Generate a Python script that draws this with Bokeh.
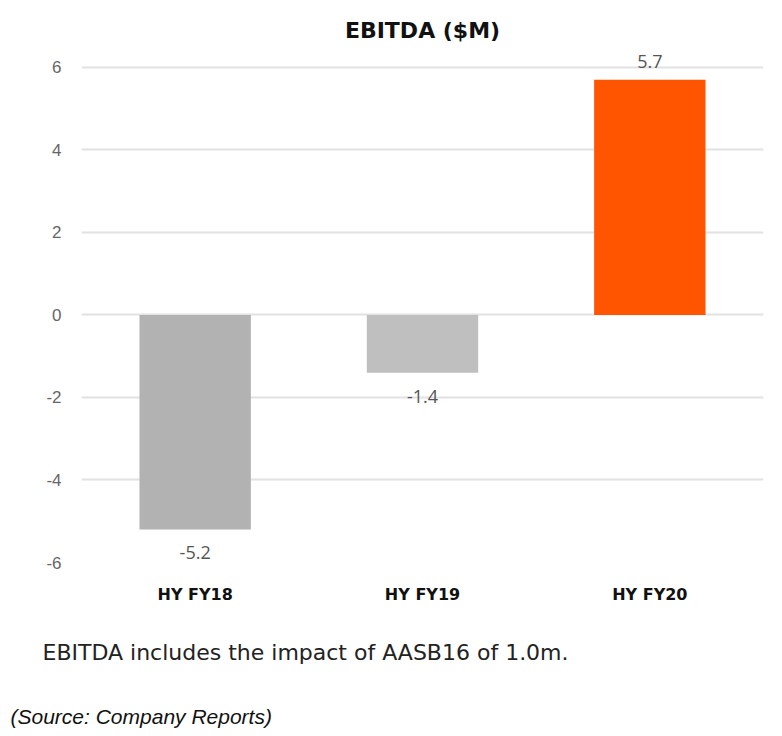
from bokeh.plotting import figure
from bokeh.models import ColumnDataSource, Range1d, Title, FixedTicker, CustomJSTickFormatter
from bokeh.core.properties import value
from bokeh.embed import file_html
from bokeh.resources import INLINE

categories = ["HY FY18", "HY FY19", "HY FY20"]
ebitda = [-5.2, -1.4, 5.7]
bar_colors = ["#b2b2b2", "#bfbfbf", "#ff5500"]
y_ticks = [-6, -4, -2, 0, 2, 4, 6]
title_text = "EBITDA ($M)"
note_text = "EBITDA includes the impact of AASB16 of 1.0m."
source_text = "(Source: Company Reports)"

labels = [f"{v:.1f}" for v in ebitda]
src = ColumnDataSource(dict(cat=categories, val=ebitda, color=bar_colors, label=labels))
pos = ColumnDataSource(dict(cat=[c for c, v in zip(categories, ebitda) if v >= 0],
                            val=[v for v in ebitda if v >= 0],
                            label=[l for l, v in zip(labels, ebitda) if v >= 0]))
neg = ColumnDataSource(dict(cat=[c for c, v in zip(categories, ebitda) if v < 0],
                            val=[v for v in ebitda if v < 0],
                            label=[l for l, v in zip(labels, ebitda) if v < 0]))

p = figure(x_range=categories, y_range=Range1d(-6, 6.41), width=776, height=736,
           output_backend="svg", toolbar_location=None,
           min_border_left=81, min_border_right=13, min_border_top=50, min_border_bottom=174)

p.title.text = title_text
p.title.align = "center"
p.title.text_font = "DejaVu Sans"
p.title.text_font_style = "bold"
p.title.text_font_size = "22px"
p.title.text_color = "#111111"
p.title.standoff = 15

p.vbar(x="cat", top="val", bottom=0, width=0.49, color="color", source=src, line_color=None)

p.text(x="cat", y="val", text="label", source=pos, text_align="center", text_baseline="bottom",
       y_offset=-12, text_font=value("Open Sans"), text_font_size="18px", text_color="#555555")
p.text(x="cat", y="val", text="label", source=neg, text_align="center", text_baseline="top",
       y_offset=17, text_font=value("Open Sans"), text_font_size="18px", text_color="#555555")

p.outline_line_color = None
p.xgrid.grid_line_color = None
p.ygrid.grid_line_color = "#e2e2e2"
p.ygrid.grid_line_width = 2
p.yaxis.ticker = FixedTicker(ticks=y_ticks)
p.yaxis.formatter = CustomJSTickFormatter(code="return tick.toFixed(0);")
p.yaxis.axis_line_color = None
p.yaxis.major_tick_line_color = None
p.yaxis.minor_tick_line_color = None
p.yaxis.major_label_standoff = 14
p.yaxis.major_label_text_font = "Liberation Sans"
p.yaxis.major_label_text_font_size = "17px"
p.yaxis.major_label_text_color = "#666666"

p.xaxis.axis_line_color = None
p.xaxis.major_tick_line_color = None
p.xaxis.major_label_standoff = 16
p.xaxis.major_label_text_font = "DejaVu Sans"
p.xaxis.major_label_text_font_style = "bold"
p.xaxis.major_label_text_font_size = "16px"
p.xaxis.major_label_text_color = "#111111"

note = Title(text=note_text, align="left", offset=-39, text_font="DejaVu Sans",
             text_font_style="normal", text_font_size="22px", text_color="#222222", standoff=62)
p.add_layout(note, "below")
srct = Title(text=source_text, align="left", offset=-71, text_font="Liberation Sans",
             text_font_style="italic", text_font_size="21px", text_color="#111111", standoff=15)
p.add_layout(srct, "below")

open("out.html", "w").write(file_html(p, INLINE))
